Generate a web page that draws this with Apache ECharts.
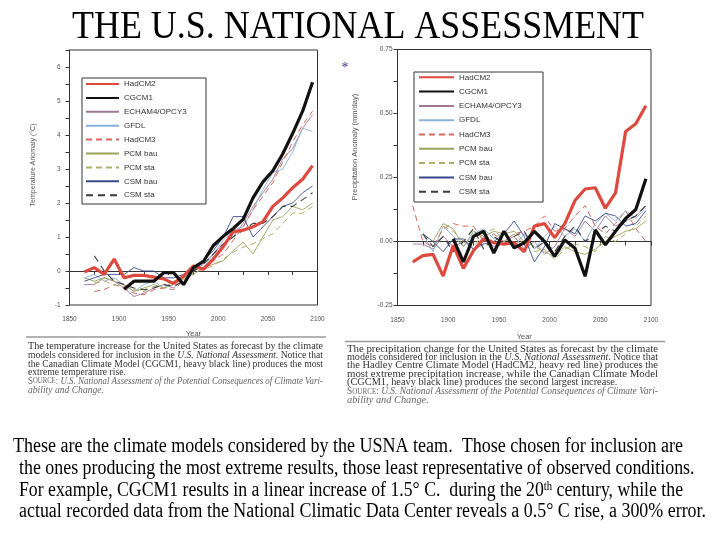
<!DOCTYPE html>
<html><head><meta charset="utf-8">
<script src="https://cdn.jsdelivr.net/npm/echarts@6/dist/echarts.min.js"></script>
<style>html,body{margin:0;padding:0;background:#fff}#c{width:720px;height:540px}</style>
</head><body><div id="c"></div>
<script>
// ---------------- DATA ----------------
const YEARS = [1865,1875,1885,1895,1905,1915,1925,1935,1945,1955,1965,1975,1985,1995,2005,2015,2025,2035,2045,2055,2065,2075,2085,2095];
const MODEL_NAMES = ['HadCM2','CGCM1','ECHAM4/OPCY3','GFDL','HadCM3','PCM bau','PCM sta','CSM bau','CSM sta'];

// Temperature anomaly (°C)
const T_HADCM2 = [-0.03,0.10,-0.10,0.35,-0.20,-0.13,-0.13,-0.18,-0.23,-0.37,-0.15,0.15,0.05,0.35,0.72,1.15,1.20,1.30,1.45,1.90,2.15,2.45,2.70,3.10];
const T_CGCM1  = [null,null,null,null,-0.54,-0.30,-0.30,-0.30,-0.05,-0.05,-0.40,0.10,0.28,0.75,1.02,1.25,1.52,2.15,2.62,2.95,3.45,4.05,4.70,5.55];
const T_ECHAM  = [-0.40,-0.40,-0.20,-0.30,-0.50,-0.75,-0.65,-0.50,-0.40,-0.50,-0.20,0.00,0.20,0.50,0.80,1.00,1.40,1.90,2.30,2.70,3.30,3.60,4.20,4.60];
const T_GFDL   = [-0.20,-0.10,-0.30,-0.20,-0.40,-0.60,-0.40,-0.30,-0.50,-0.40,-0.10,0.10,0.10,0.50,0.90,1.20,1.30,1.80,2.40,2.90,3.00,3.50,4.20,4.10];
const T_HADCM3 = [null,-0.60,-0.55,-0.40,-0.50,-0.65,-0.70,-0.55,-0.50,-0.55,-0.30,0.00,0.10,0.30,0.50,0.90,1.30,1.80,2.20,2.60,3.20,3.80,4.30,4.70];
const T_PCMBAU = [-0.20,-0.30,-0.20,-0.30,-0.40,-0.60,-0.50,-0.40,-0.50,-0.30,-0.20,-0.10,0.10,0.20,0.30,0.60,0.85,0.50,1.00,1.50,1.60,1.90,1.80,2.00];
const T_PCMSTA = [null,-0.35,-0.30,-0.40,-0.45,-0.55,-0.60,-0.45,-0.50,-0.40,-0.25,-0.05,0.05,0.15,0.35,0.55,0.70,0.80,0.95,1.10,1.40,1.70,1.70,1.90];
const T_CSMBAU = [-0.30,-0.20,-0.10,-0.10,-0.10,0.10,0.00,0.00,-0.20,-0.20,-0.10,0.00,0.30,0.60,1.00,1.60,1.60,1.00,1.30,1.60,1.90,2.00,2.30,2.50];
const T_CSMSTA = [null,0.45,0.00,-0.30,-0.40,-0.50,-0.55,-0.50,-0.40,-0.45,-0.30,0.00,0.20,0.50,0.80,1.00,1.20,1.40,1.40,1.60,1.90,1.90,2.10,2.30];

// Precipitation anomaly (mm/day)
const P_HADCM2 = [-0.080,-0.055,-0.050,-0.135,-0.015,-0.105,-0.035,0.010,-0.005,-0.010,-0.005,-0.040,0.060,0.070,0.015,0.070,0.160,0.205,0.210,0.130,0.190,0.430,0.460,0.530];
const P_CGCM1  = [null,null,null,null,0.010,-0.080,0.020,0.040,-0.045,0.040,-0.025,-0.005,0.040,0.000,-0.058,0.006,-0.026,-0.136,0.045,-0.013,0.040,0.090,0.125,0.245];
const P_ECHAM  = [-0.010,-0.010,-0.030,0.020,-0.020,0.000,-0.030,0.020,-0.020,0.000,0.020,-0.030,0.000,-0.050,-0.020,0.050,0.020,0.080,0.040,0.100,0.060,0.080,0.100,0.140];
const P_GFDL   = [null,0.030,-0.040,0.060,0.020,-0.020,0.030,0.050,0.010,0.040,-0.020,0.030,-0.030,0.020,0.060,0.020,0.050,0.000,0.070,0.110,0.080,0.120,0.090,0.130];
const P_HADCM3 = [0.140,0.000,-0.020,0.050,0.070,0.060,0.060,0.000,0.030,0.000,0.030,0.040,0.060,0.100,0.040,0.050,0.100,0.140,0.060,0.030,0.070,0.120,0.050,0.000];
const P_PCMBAU = [null,null,0.000,0.070,0.050,-0.020,0.040,0.020,0.040,0.030,0.040,0.000,-0.020,-0.040,-0.060,-0.020,-0.040,-0.050,-0.030,0.000,0.020,0.040,0.050,0.080];
const P_PCMSTA = [null,null,null,0.060,0.040,0.000,-0.020,0.030,0.050,0.000,0.030,-0.010,-0.040,-0.030,-0.070,-0.030,-0.010,-0.020,-0.040,0.020,0.000,0.030,0.060,0.100];
const P_CSMBAU = [null,0.030,0.000,-0.040,0.010,0.010,-0.030,-0.010,0.000,0.030,0.080,0.020,-0.080,-0.020,0.070,0.050,0.030,0.100,0.080,0.110,0.100,0.060,0.070,0.120];
const P_CSMSTA = [null,0.030,-0.020,0.020,-0.040,0.000,0.050,-0.030,0.020,-0.010,0.020,0.040,-0.030,0.000,-0.040,0.020,0.060,0.000,0.030,0.060,0.040,0.080,0.100,0.140];

const TEMP_SERIES = [T_HADCM2,T_CGCM1,T_ECHAM,T_GFDL,T_HADCM3,T_PCMBAU,T_PCMSTA,T_CSMBAU,T_CSMSTA];
const PREC_SERIES = [P_HADCM2,P_CGCM1,P_ECHAM,P_GFDL,P_HADCM3,P_PCMBAU,P_PCMSTA,P_CSMBAU,P_CSMSTA];

// ---------------- TEXT ----------------
const TITLE = 'THE U.S. NATIONAL ASSESSMENT';
const Y_NAME_T = 'Temperature Anomaly (°C)';
const Y_NAME_P = 'Precipitation Anomaly (mm/day)';
const X_NAME = 'Year';
const SRC = [['S','sc'],['OURCE','scs'],[': ','sc'],['U.S. National Assessment of the Potential Consequences of Climate Vari-','si']];
const SRC2 = [['ability and Change.','si']];
const CAP_T = [
  [['The temperature increase for the United States as forecast by the climate','n']],
  [['models considered for inclusion in the ','n'],['U.S. National Assessment','i'],['. Notice that','n']],
  [['the Canadian Climate Model (CGCM1, heavy black line) produces the most','n']],
  [['extreme temperature rise.','n']]
];
const CAP_P = [
  [['The precipitation change for the United States as forecast by the climate','n']],
  [['models considered for inclusion in the ','n'],['U.S. National Assessment','i'],['. Notice that','n']],
  [['the Hadley Centre Climate Model (HadCM2, heavy red line) produces the','n']],
  [['most extreme precipitation increase, while the Canadian Climate Model','n']],
  [['(CGCM1, heavy black line) produces the second largest increase.','n']]
];
const BOTTOM = [
  [['These are the climate models considered by the USNA team.  Those chosen for inclusion are','b']],
  [['the ones producing the most extreme results, those least representative of observed conditions.','b']],
  [['For example, CGCM1 results in a linear increase of 1.5° C.  during the 20','b'],['th','sup'],[' century, while the','b']],
  [['actual recorded data from the National Climatic Data Center reveals a 0.5° C rise, a 300% error.','b']]
];

// ---------------- STYLE ----------------
const COLORS = ['#dc4a3f','#111111','#a07896','#8cb0d6','#d9665c','#9ba35a','#b3ae6c','#3a4a8c','#3a3a3a'];
const WIDTHS = [3.2,3.2,0.9,0.9,1,0.9,1,0.9,1.1];
const TYPES  = ['solid','solid','solid','solid',[6,4],'solid',[6,4],'solid',[7,5]];
const ORDER = [2,3,4,5,6,7,8,0,1]; // draw heavy lines last

const ctx = document.createElement('canvas').getContext('2d');
const SERIF = 'Liberation Serif';
function richSet(size, color, srcColor){
  return {
    n:{fontFamily:SERIF,fontSize:size,fill:color,color:color},
    i:{fontFamily:SERIF,fontSize:size,fontStyle:'italic',fill:color,color:color},
    sc:{fontFamily:SERIF,fontSize:size,fill:srcColor,color:srcColor},
    scs:{fontFamily:SERIF,fontSize:size*0.75,fill:srcColor,color:srcColor},
    si:{fontFamily:SERIF,fontSize:size,fontStyle:'italic',fill:srcColor,color:srcColor},
    b:{fontFamily:SERIF,fontSize:size,fill:color,color:color,lineHeight:size},
    sup:{fontFamily:SERIF,fontSize:size*0.6,fill:color,color:color,lineHeight:size,verticalAlign:'top'}
  };
}
function fontOf(st){return (st.fontStyle||'normal')+' normal '+st.fontSize+'px "'+st.fontFamily+'"';}
function measure(segs, rich){
  let w=0; segs.forEach(([t,k])=>{ctx.font=fontOf(rich[k]); w+=ctx.measureText(t).width;}); return w;
}
function textEl(segs, rich, x, y, sx){
  return {type:'text', x:x, y:y, scaleX:sx, silent:true,
    style:{text:segs.map(([t,k])=>'{'+k+'|'+t+'}').join(''), rich:rich, verticalAlign:'middle', align:'left'}};
}
function paragraph(lines, justified, rich, x, ys, width){
  const els=[]; const scales=[];
  lines.forEach((l,i)=>{ if(justified[i]) scales.push(width/measure(l,rich)); });
  const avg = scales.reduce((a,b)=>a+b,0)/scales.length;
  lines.forEach((l,i)=>{ const s = justified[i] ? width/measure(l,rich) : avg; els.push(textEl(l,rich,x,ys[i],s)); });
  return els;
}

const graphics = [];
// title
ctx.font = '40px "'+SERIF+'"';
const tScale = 572/ctx.measureText(TITLE).width;
graphics.push({type:'text', x:358, y:27, scaleX:tScale, silent:true,
  style:{text:TITLE, fontFamily:SERIF, fontSize:40, fill:'#000', align:'center', verticalAlign:'middle'}});
graphics.push({type:'text', x:345, y:68, silent:true,
  style:{text:'*', fontFamily:SERIF, fontSize:14, fill:'#4b2a7a', align:'center', verticalAlign:'middle'}});
// y names
graphics.push({type:'text', x:33, y:165, rotation:Math.PI/2, silent:true,
  style:{text:Y_NAME_T, fontFamily:'Liberation Sans', fontSize:7, fill:'#555', align:'center', verticalAlign:'middle'}});
graphics.push({type:'text', x:355, y:147, rotation:Math.PI/2, silent:true,
  style:{text:Y_NAME_P, fontFamily:'Liberation Sans', fontSize:7.5, fill:'#555', align:'center', verticalAlign:'middle'}});
// legend boxes
graphics.push({type:'rect', shape:{x:82,y:78,width:124,height:126}, style:{fill:'none',stroke:'#333',lineWidth:1}, silent:true});
graphics.push({type:'rect', shape:{x:414,y:72,width:129,height:130}, style:{fill:'none',stroke:'#333',lineWidth:1}, silent:true});
// caption rules
graphics.push({type:'line', shape:{x1:26,y1:337,x2:326,y2:337}, style:{stroke:'#999',lineWidth:1.5}, silent:true});
graphics.push({type:'line', shape:{x1:345,y1:341.5,x2:665,y2:341.5}, style:{stroke:'#999',lineWidth:1.5}, silent:true});
// captions
const richL = richSet(9.8,'#333','#666');
graphics.push(...paragraph(CAP_T.concat([SRC,SRC2]), [1,1,1,0,1,0], richL, 28, [346,355,364,372.5,381.5,390], 295));
const richR = richSet(9.8,'#333','#666');
graphics.push(...paragraph(CAP_P.concat([SRC,SRC2]), [1,1,1,1,0,1,0], richR, 347, [349,357.3,365.7,374,382.3,391.7,400], 311));
// bottom text
const richB = richSet(20,'#000','#000');
const bx=[13,19,19,19], bend=[683,694.5,683,706], by=[447,469,490.5,512];
BOTTOM.forEach((l,i)=>{ graphics.push(textEl(l,richB,bx[i],by[i],(bend[i]-bx[i])/measure(l,richB))); });

// ---------------- CHART ----------------
function mkSeries(arrs, idx){
  return ORDER.map(k=>({
    type:'line', name:MODEL_NAMES[k], xAxisIndex:idx, yAxisIndex:idx,
    data:YEARS.map((y,i)=>[y,arrs[k][i]]).filter(p=>p[1]!==null),
    symbol:'none', showSymbol:false, z:k<2?5:3, clip:true,
    lineStyle:{color:COLORS[k], width:WIDTHS[k], type:TYPES[k]},
    itemStyle:{color:COLORS[k]}
  }));
}
const axisCommon = {
  axisLine:{show:true,lineStyle:{color:'#333',width:1}},
  axisTick:{show:true,inside:false,length:4,lineStyle:{color:'#333'}},
  minorTick:{show:true,splitNumber:2,length:4,lineStyle:{color:'#333'}},
  splitLine:{show:false}
};
const lblStyle = {fontFamily:'Liberation Sans', fontSize:6.5, color:'#555'};
function xAx(idx, gap){
  return Object.assign({type:'value', gridIndex:idx, min:1850, max:2100, interval:50,
    axisLabel:Object.assign({margin:11, formatter:v=>String(v)},lblStyle),
    name:X_NAME, nameLocation:'middle', nameGap:gap, nameTextStyle:{fontFamily:'Liberation Sans',fontSize:7.5,color:'#555'}}, axisCommon);
}
function legend(left, top, w, gap){
  return {orient:'vertical', left:left, top:top, padding:0, itemWidth:w, itemHeight:8, itemGap:gap,
    selectedMode:false, data:MODEL_NAMES,
    itemStyle:{color:'rgba(0,0,0,0)', borderColor:'rgba(0,0,0,0)', borderWidth:0, opacity:0},
    textStyle:{fontFamily:'Liberation Sans', fontSize:8, color:'#333'}};
}
const option = {
  animation:false,
  backgroundColor:'#fff',
  grid:[
    {left:69.5, top:50, width:248, height:255, show:true, borderColor:'#333', borderWidth:1, backgroundColor:'transparent'},
    {left:397.5, top:49.5, width:253.5, height:256, show:true, borderColor:'#333', borderWidth:1, backgroundColor:'transparent'}
  ],
  xAxis:[xAx(0,25), xAx(1,27)],
  yAxis:[
    Object.assign({type:'value', gridIndex:0, min:-1, max:6.5, interval:1,
      axisLabel:Object.assign({margin:9, showMaxLabel:false},lblStyle)}, axisCommon),
    Object.assign({type:'value', gridIndex:1, min:-0.25, max:0.75, interval:0.25,
      axisLabel:Object.assign({margin:5, formatter:v=>v.toFixed(2)},lblStyle)}, axisCommon)
  ],
  legend:[legend(85,80,33,5.9), legend(418,73.3,35,6.3)],
  series:mkSeries(TEMP_SERIES,0).concat(mkSeries(PREC_SERIES,1)),
  graphic:{elements:graphics}
};
const chart = echarts.init(document.getElementById('c'));
chart.setOption(option);
</script></body></html>
